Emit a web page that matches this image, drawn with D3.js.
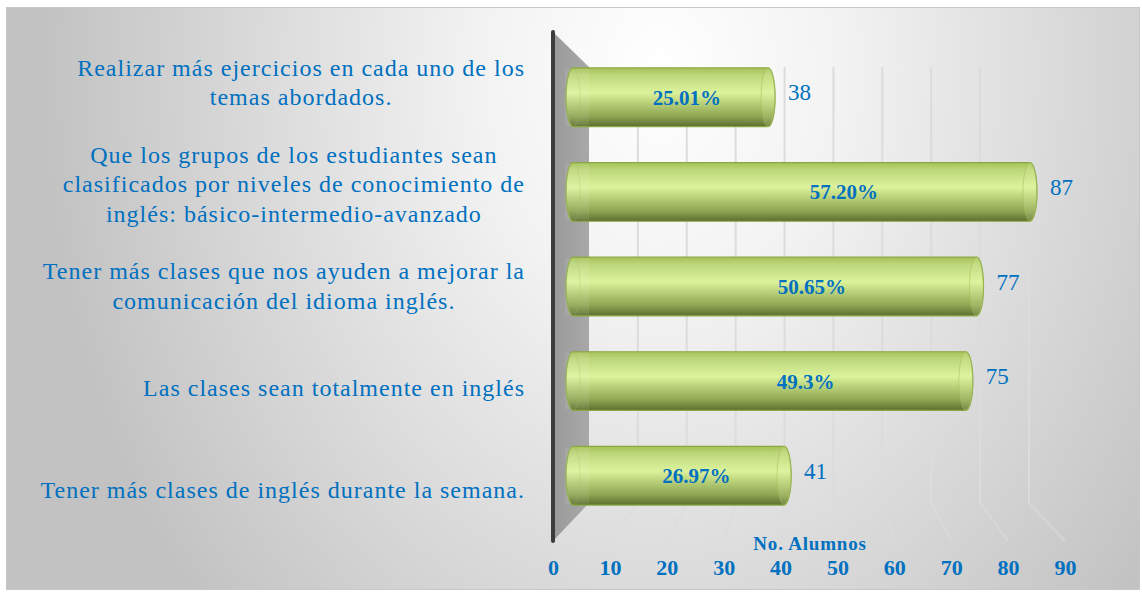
<!DOCTYPE html>
<html>
  <head>
    <meta charset="UTF-8">
    <title>No. Alumnos</title>
    <style>
    body {
      margin: 0;
      background: #fff;
    }
    svg text {
      font-family: "Liberation Serif", "Times New Roman", serif;
      fill: #0070c0;
    }
    .cat text { font-size: 24px; letter-spacing: 1px; }
    .pct { font-size: 21px; font-weight: bold; }
    .val { font-size: 23px; }
    .axis text { font-size: 22px; font-weight: bold; }
    .axis-title { font-size: 19px; font-weight: bold; letter-spacing: 0.8px; }
    .grid { stroke: #dcdcdc; stroke-width: 2px; fill: none; }
    </style>
  </head>
  <body>
    <svg width="1142" height="592"></svg>
    <script src="https://d3js.org/d3.v7.min.js"></script>
    <script>
// categories, top to bottom (already wrapped the way the source shows them)
var categories = [
  ["Realizar más ejercicios en cada uno de los", "temas abordados."],
  ["Que los grupos de los estudiantes sean", "clasificados por niveles de conocimiento de", "inglés: básico-intermedio-avanzado"],
  ["Tener más clases que nos ayuden a mejorar la", "comunicación del idioma inglés."],
  ["Las clases sean totalmente en inglés"],
  ["Tener más clases de inglés durante la semana."]
];
var values = [38, 87, 77, 75, 41];
var percents = ["25.01%", "57.20%", "50.65%", "49.3%", "26.97%"];
var tickValues = [0, 10, 20, 30, 40, 50, 60, 70, 80, 90];
var axisTitle = "No. Alumnos";

var svg = d3.select("svg"),
    defs = svg.append("defs"),
    idx = d3.range(categories.length);

// 3D look: a front plane (axis + labels), a back wall (gridlines) and the bars in between
var xFront = d3.scaleLinear().domain([0, 90]).range([553, 1065]),
    xBack = d3.scaleLinear().domain([0, 90]).range([589, 1029]),
    xBar = d3.scaleLinear().domain([0, 90]).range([565, 1046]),
    yFront = d3.scaleBand().domain(idx).range([32, 541]),
    yBar = d3.scaleBand().domain(idx).range([50, 523]).paddingInner(0.38).paddingOuter(0.19),
    backTop = 67, backBottom = 503, frontTop = 32, frontBottom = 541;

// ---- background
var bg = defs.append("radialGradient")
    .attr("id", "bg")
    .attr("gradientUnits", "userSpaceOnUse")
    .attr("cx", 660).attr("cy", 70).attr("r", 620)
    .attr("gradientTransform", "translate(660,70) scale(1,1.3) translate(-660,-70)");
bg.append("stop").attr("offset", 0).attr("stop-color", "#ffffff");
bg.append("stop").attr("offset", 0.3).attr("stop-color", "#f2f2f2");
bg.append("stop").attr("offset", 1).attr("stop-color", "#c2c2c2");

svg.append("rect")
    .attr("x", 6.5).attr("y", 7.5)
    .attr("width", 1133).attr("height", 582)
    .attr("fill", "url(#bg)")
    .attr("stroke", "#c8c8c8");

// ---- back wall gridlines + floor lines
var grid = svg.append("g");
tickValues.slice(1).forEach(function(t) {
  grid.append("path")
      .attr("class", "grid")
      .attr("d", "M" + xBack(t) + "," + backTop +
                 "L" + xBack(t) + "," + backBottom);
  grid.append("path")
      .attr("class", "grid")
      .attr("stroke-opacity", 0.6)
      .attr("d", "M" + xBack(t) + "," + backBottom +
                 "L" + xFront(t) + "," + frontBottom);
});

// ---- side wall
var wallGrad = defs.append("linearGradient").attr("id", "wall")
    .attr("x1", 0).attr("y1", 0).attr("x2", 1).attr("y2", 0);
wallGrad.append("stop").attr("offset", 0).attr("stop-color", "#9a9a9a");
wallGrad.append("stop").attr("offset", 1).attr("stop-color", "#a8a8a8");

svg.append("path")
    .attr("d", "M" + xFront(0) + "," + frontTop +
               "L" + xBack(0) + "," + backTop +
               "L" + xBack(0) + "," + backBottom +
               "L" + xFront(0) + "," + frontBottom + "Z")
    .attr("fill", "url(#wall)");

svg.append("line")
    .attr("x1", xFront(0)).attr("x2", xFront(0))
    .attr("y1", frontTop).attr("y2", frontBottom)
    .attr("stroke", "#3c3c3c")
    .attr("stroke-width", 4)
    .attr("stroke-linecap", "round");

// ---- cylinders
var barGrad = defs.append("linearGradient").attr("id", "cyl")
    .attr("x1", 0).attr("y1", 0).attr("x2", 0).attr("y2", 1);
[[0, "#a6c158"], [0.12, "#bcd67a"], [0.42, "#dcf39c"], [0.58, "#bcd47c"],
 [0.82, "#8fa653"], [1, "#5c6e30"]].forEach(function(s) {
  barGrad.append("stop").attr("offset", s[0]).attr("stop-color", s[1]);
});

var rx = 7;
var bars = svg.append("g").selectAll("g")
    .data(idx)
  .enter().append("g");

bars.append("path")
    .attr("d", function(i) {
      var x0 = xBar(0) + rx + 1, x1 = xBar(values[i]),
          t = yBar(i), b = t + yBar.bandwidth(), ry = yBar.bandwidth() / 2;
      return "M" + x0 + "," + t + "L" + x1 + "," + t +
             "A" + rx + "," + ry + " 0 0 1 " + x1 + "," + b +
             "L" + x0 + "," + b +
             "A" + rx + "," + ry + " 0 0 1 " + x0 + "," + t + "Z";
    })
    .attr("fill", "url(#cyl)")
    .attr("stroke", "#8aa842")
    .attr("stroke-width", 1.2);

// end cap face
bars.append("ellipse")
    .attr("cx", function(i) { return xBar(values[i]); })
    .attr("cy", function(i) { return yBar(i) + yBar.bandwidth() / 2; })
    .attr("rx", rx)
    .attr("ry", yBar.bandwidth() / 2)
    .attr("fill", "#e4f7a8")
    .attr("fill-opacity", 0.2)
    .attr("stroke", "#9dbb52")
    .attr("stroke-opacity", 0.5);

// faint hidden edge of the base
bars.append("ellipse")
    .attr("cx", xBar(0) + rx + 1)
    .attr("cy", function(i) { return yBar(i) + yBar.bandwidth() / 2; })
    .attr("rx", rx)
    .attr("ry", yBar.bandwidth() / 2)
    .attr("fill", "none")
    .attr("stroke", "#9dbb52")
    .attr("stroke-opacity", 0.3);

// part of the cylinder sitting in front of the side wall is slightly lighter
bars.append("rect")
    .attr("x", xBar(0))
    .attr("y", function(i) { return yBar(i) + 1; })
    .attr("width", xBack(0) - xBar(0))
    .attr("height", yBar.bandwidth() - 2)
    .attr("fill", "#ffffff")
    .attr("fill-opacity", 0.08);

// percentage inside the bar (Excel puts it left of the middle on 3D bars)
bars.append("text")
    .attr("class", "pct")
    .attr("x", function(i) { return xBar(values[i] * 0.6); })
    .attr("y", function(i) { return yBar(i) + yBar.bandwidth() / 2 + 7.5; })
    .attr("text-anchor", "middle")
    .text(function(i) { return percents[i]; });

// count after the bar
bars.append("text")
    .attr("class", "val")
    .attr("x", function(i) { return xBar(values[i]) + 20; })
    .attr("y", function(i) { return yBar(i) + yBar.bandwidth() / 2 + 3; })
    .text(function(i) { return values[i]; });

// ---- category labels, centred block with its widest line ending at the right edge
var labelRight = 525, lineH = 29.5;
var cats = svg.append("g").attr("class", "cat").selectAll("g")
    .data(idx)
  .enter().append("g");

cats.each(function(i) {
  var g = d3.select(this),
      lines = categories[i],
      cy = yFront(i) + yFront.bandwidth() / 2;
  var texts = lines.map(function(l, k) {
    return g.append("text")
        .attr("y", cy + (k - (lines.length - 1) / 2) * lineH + 7.5)
        .attr("text-anchor", "middle")
        .text(l);
  });
  var w = d3.max(texts, function(t) { return t.node().getComputedTextLength(); });
  texts.forEach(function(t) { t.attr("x", labelRight - w / 2); });
});

// ---- value axis on the front edge
var axis = svg.append("g")
    .attr("class", "axis")
    .attr("transform", "translate(0,559)")
    .call(d3.axisBottom(xFront).tickValues(tickValues).tickSize(0).tickPadding(0));
axis.select(".domain").remove();

svg.append("text")
    .attr("class", "axis-title")
    .attr("x", 810)
    .attr("y", 550)
    .attr("text-anchor", "middle")
    .text(axisTitle);
    </script>
  </body>
</html>
